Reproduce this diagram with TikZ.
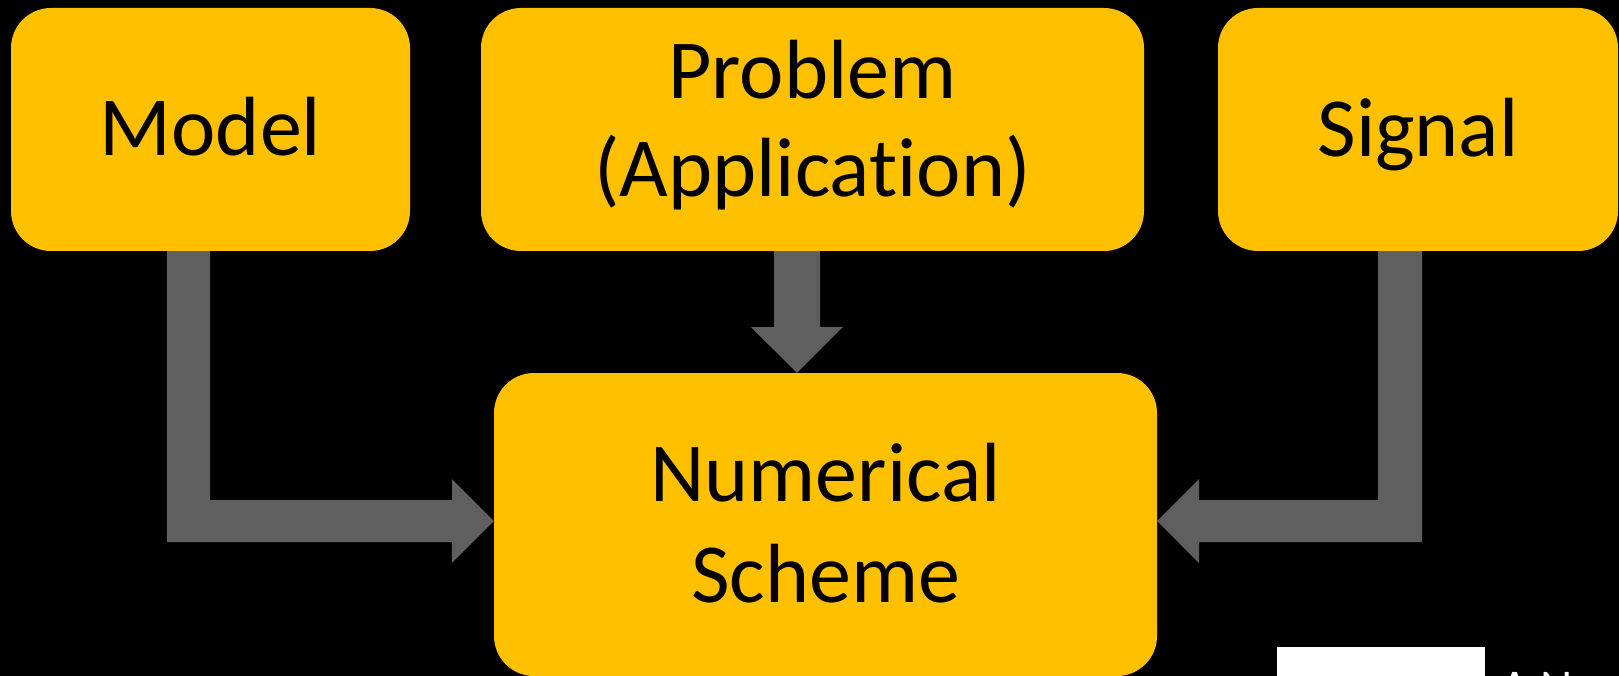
\documentclass[tikz,border=0pt]{standalone}
\usepackage{fontspec}
\setmainfont[Ligatures={NoCommon}]{Carlito}
\usetikzlibrary{calc}
\definecolor{boxgold}{RGB}{255,192,0}
\definecolor{arrowgrey}{RGB}{95,95,95}
\tikzset{
  x=1pt, y=1pt,
  stagebox/.style={fill=boxgold, draw=none, rounded corners=40pt, inner sep=0pt},
  stagetext/.style={anchor=base, inner sep=0pt, font=\fontsize{84}{100}\selectfont, text=black},
  arrowfill/.style={fill=arrowgrey, draw=none},
}
\begin{document}
\begin{tikzpicture}
  % canvas
  \fill[black] (0,0) rectangle (1619,-676);
  \useasboundingbox (0,0) rectangle (1619,-676);

  % boxes
  \node[stagebox, minimum width=399pt, minimum height=243pt] (model) at (210.5,-129.5) {};
  \node[stagebox, minimum width=663pt, minimum height=243pt] (prob)  at (812.5,-129.5) {};
  \node[stagebox, minimum width=400pt, minimum height=243pt] (sig)   at (1418,-129.5) {};
  \node[stagebox, minimum width=663pt, minimum height=303pt] (num)   at (825.5,-524.5) {};

  % labels
  \node[stagetext] (modeltxt) at (210.5,-156) {Model};
  \node[stagetext] (probtxt1) at (812.5,-99) {Problem};
  \node[stagetext] (probtxt2) at (812.5,-197) {(Application)};
  \node[stagetext] (sigtxt)   at (1418,-157) {Signal};
  \node[stagetext] (numtxt1)  at (825.5,-501) {Numerical};
  \node[stagetext] (numtxt2)  at (825.5,-602) {Scheme};

  % arrow tips on the lower box
  \coordinate (ltip) at ([yshift=3.5pt]num.west);
  \coordinate (rtip) at ([yshift=3.5pt]num.east);
  \coordinate (dtip) at ([xshift=-28.5pt]num.north);

  % Model -> Numerical Scheme
  \fill[arrowfill] ([xshift=-43.5pt]model.south) -- ([xshift=-0.5pt]model.south)
    -- ++(0,-249) -- ++(242,0) -- ++(0,21) -- (ltip) -- ++(-42,-42)
    -- ++(0,21) -- ++(-285,0) -- cycle;

  % Problem -> Numerical Scheme
  \fill[arrowfill] ([xshift=-38.5pt]prob.south) -- ++(0,-76) -- ++(-23,0)
    -- (dtip) -- ++(46,46) -- ++(-23,0) -- ([xshift=7.5pt]prob.south) -- cycle;

  % Signal -> Numerical Scheme
  \fill[arrowfill] ([xshift=4pt]sig.south) -- ++(0,-291) -- ++(-223,0)
    -- ++(0,-21) -- (rtip) -- ++(42,42) -- ++(0,-21) -- ++(179,0)
    -- ([xshift=-40pt]sig.south) -- cycle;

  % footer strip
  \fill[white] (1277,-647) rectangle (1485,-676);
  \begin{scope}
    \clip (0,0) rectangle (1619,-676);
    \node[anchor=base west, inner sep=0pt, text=white,
          font=\fontsize{50}{60}\selectfont] (foot) at (1500,-704) {A N};
  \end{scope}
\end{tikzpicture}
\end{document}
